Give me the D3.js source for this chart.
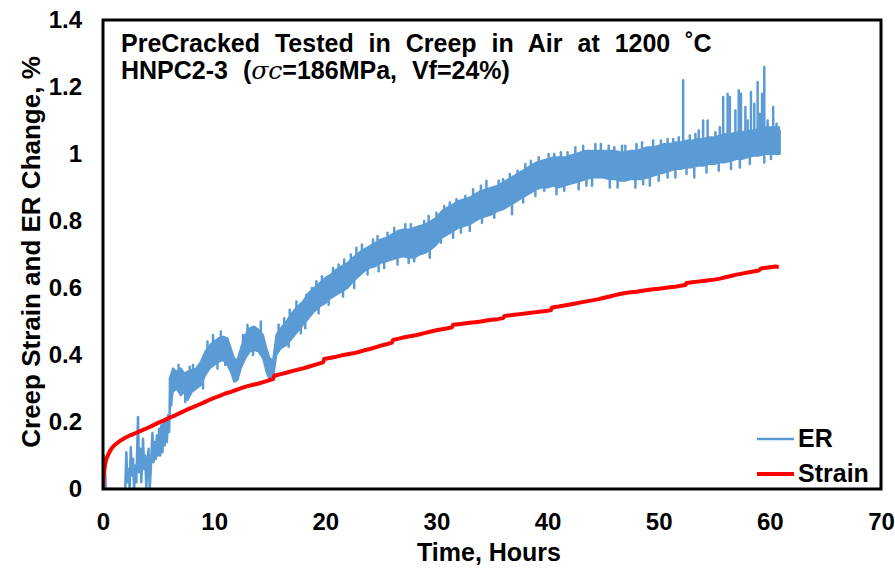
<!DOCTYPE html>
<html><head><meta charset="utf-8">
<script src="https://cdn.jsdelivr.net/npm/d3@7"></script>
<style>body{margin:0;background:#fff}svg{display:block}</style>
</head><body><svg id="c" width="895" height="568"></svg>
<script>
const xTicks = [0,10,20,30,40,50,60,70];
const yTicks = [0,0.2,0.4,0.6,0.8,1,1.2,1.4];
const yTickLabels = ["0","0.2","0.4","0.6","0.8","1","1.2","1.4"];
const seriesNames = ["ER","Strain"];
const titleLine1 = "PreCracked Tested in Creep in Air at 1200 ˚C";
const xLabel = "Time, Hours";
const yLabel = "Creep Strain and ER Change, %";

// ER early (sparse noisy) part: [hours, value]
const erEarly = [[0.0,0],[0.08,0.1],[0.12,0.02],[0.18,0.07],[0.25,0],[2.0,0],[2.1,0.11],[2.2,0.02],[2.3,0.06],[2.4,0],[2.5,0.125],[2.6,0.04],[2.7,0.09],[2.8,0],[2.9,0.07],[3.0,0.02],[3.15,0.215],[3.25,0.05],[3.35,0.12],[3.45,0.02],[3.6,0.15],[3.7,0.06],[3.8,0.1],[3.9,0],[4.0,0.08],[4.1,0.12],[4.2,0],[4.3,0.06],[4.45,0.167],[4.55,0.08],[4.65,0.14],[4.75,0.09],[4.85,0.16],[4.95,0.1],[5.05,0.18],[5.15,0.1],[5.25,0.19],[5.35,0.11],[5.45,0.2],[5.55,0.13],[5.65,0.21],[5.75,0.14],[5.85,0.22],[5.95,0.17],[6.05,0.3],[6.15,0.25],[6.25,0.34]];

// ER dense band: hours, lower and upper envelope
const erHours = [6.0,6.3,6.6,7.0,7.3,7.6,8.0,8.4,8.8,9.2,9.6,10.0,10.4,10.8,11.2,11.5,11.8,12.1,12.4,12.8,13.2,13.6,14.0,14.4,14.7,15.0,15.3,15.6,16.0,16.5,17.0,17.5,18.0,18.5,19.0,19.5,20.0,20.5,21.0,21.5,22.0,22.5,23.0,23.5,24.0,24.5,25.0,25.5,26.0,26.5,27.0,27.5,28.0,28.5,29.0,29.5,30.0,30.5,31.0,31.5,32.0,32.5,33.0,33.5,34.0,34.5,35.0,35.5,36.0,36.5,37.0,37.5,38.0,38.5,39.0,39.5,40.0,40.5,41.0,41.5,42.0,42.5,43.0,43.5,44.0,44.5,45.0,45.5,46.0,46.5,47.0,47.5,48.0,48.5,49.0,49.5,50.0,50.5,51.0,51.5,52.0,52.5,53.0,53.5,54.0,54.5,55.0,55.5,56.0,56.5,57.0,57.5,58.0,58.5,59.0,59.5,60.0,60.5,60.9];
const erLow = [0.24,0.29,0.30,0.28,0.29,0.265,0.29,0.30,0.31,0.34,0.36,0.37,0.38,0.385,0.37,0.35,0.32,0.325,0.36,0.39,0.41,0.415,0.41,0.39,0.35,0.325,0.33,0.40,0.42,0.43,0.45,0.47,0.49,0.51,0.53,0.545,0.555,0.57,0.58,0.59,0.60,0.62,0.635,0.65,0.66,0.665,0.675,0.68,0.685,0.69,0.695,0.69,0.69,0.70,0.705,0.715,0.73,0.75,0.76,0.77,0.78,0.785,0.79,0.80,0.81,0.815,0.82,0.83,0.835,0.845,0.855,0.865,0.875,0.885,0.895,0.90,0.90,0.905,0.90,0.905,0.91,0.915,0.92,0.925,0.93,0.93,0.93,0.925,0.925,0.92,0.92,0.925,0.925,0.925,0.93,0.935,0.94,0.945,0.95,0.955,0.955,0.96,0.96,0.965,0.965,0.97,0.97,0.975,0.975,0.98,0.985,0.985,0.99,0.995,0.995,1.0,1.0,1.0,1.0];
const erHigh = [0.33,0.36,0.35,0.36,0.345,0.35,0.355,0.36,0.38,0.41,0.43,0.44,0.45,0.455,0.45,0.42,0.39,0.385,0.42,0.46,0.48,0.485,0.475,0.46,0.42,0.39,0.385,0.46,0.48,0.50,0.525,0.545,0.56,0.585,0.60,0.615,0.63,0.64,0.655,0.665,0.675,0.69,0.705,0.715,0.725,0.735,0.745,0.75,0.76,0.77,0.775,0.775,0.78,0.785,0.79,0.80,0.81,0.83,0.84,0.85,0.86,0.865,0.87,0.88,0.89,0.895,0.90,0.905,0.915,0.925,0.935,0.945,0.955,0.965,0.975,0.98,0.985,0.99,0.99,0.99,0.995,1.0,1.005,1.01,1.01,1.01,1.01,1.01,1.01,1.005,1.005,1.01,1.01,1.015,1.02,1.02,1.025,1.03,1.03,1.035,1.035,1.04,1.04,1.045,1.045,1.05,1.05,1.055,1.06,1.06,1.065,1.065,1.07,1.07,1.075,1.08,1.08,1.08,1.07];

// ER spikes: [hours, base, tip]
const erSpikes = [[8.1,0.32,0.37],[9.9,0.40,0.46],[13.0,0.44,0.49],[16.3,0.46,0.51],[17.4,0.51,0.56],[18.8,0.55,0.60],[19.7,0.58,0.635],[21.2,0.62,0.67],[22.8,0.67,0.72],[24.3,0.69,0.745],[25.6,0.71,0.765],[27.2,0.735,0.79],[28.9,0.75,0.80],[30.0,0.77,0.825],[31.2,0.80,0.855],[32.6,0.83,0.875],[34.5,0.85,0.92],[36.0,0.87,0.925],[37.3,0.89,0.95],[38.5,0.92,0.98],[40.6,0.94,1.0],[41.8,0.95,1.005],[42.5,0.95,1.02],[44.3,0.97,1.03],[46.0,0.96,1.02],[47.0,0.96,1.025],[48.5,0.97,1.035],[50.2,0.98,1.04],[51.3,0.99,1.045],[52.2,1.0,1.22],[53.6,1.0,1.07],[54.0,1.0,1.10],[54.4,1.0,1.10],[55.1,1.01,1.065],[55.8,1.02,1.17],[56.2,1.02,1.18],[56.4,1.02,1.17],[56.9,1.02,1.13],[57.2,1.02,1.19],[57.4,1.02,1.18],[57.8,1.03,1.14],[58.0,1.03,1.10],[58.3,1.03,1.185],[58.6,1.03,1.15],[58.9,1.03,1.215],[59.1,1.03,1.12],[59.3,1.04,1.18],[59.5,1.04,1.26],[59.8,1.04,1.10],[60.3,1.04,1.14],[60.6,1.04,1.09],[60.8,1.04,1.08],
  [6.8,0.33,0.37],[7.8,0.33,0.365],[9.4,0.40,0.44],[10.6,0.43,0.47],[12.6,0.42,0.46],[14.2,0.45,0.50],[15.8,0.44,0.49],[16.8,0.49,0.535],[18.3,0.54,0.58],[19.2,0.58,0.62],[20.7,0.62,0.66],[21.7,0.64,0.685],[22.3,0.66,0.70],[23.3,0.69,0.73],[24.7,0.72,0.755],[26.2,0.74,0.78],[27.7,0.75,0.79],[29.3,0.77,0.815],[30.7,0.81,0.845],[31.8,0.83,0.865],[33.3,0.85,0.895],[34.0,0.86,0.905],[35.6,0.88,0.92],[36.6,0.89,0.94],[38.0,0.93,0.97],[39.2,0.95,0.99],[40.1,0.96,1.0],[41.2,0.96,1.005],[43.2,0.98,1.025],[44.8,0.98,1.03],[45.5,0.98,1.025],[46.7,0.98,1.025],[48.0,0.99,1.03],[49.5,1.0,1.04],[50.8,1.0,1.045],[51.8,1.01,1.05],[52.8,1.01,1.055],[53.3,1.02,1.06],[55.5,1.03,1.08],
  [7.4,0.30,0.26],[11.0,0.40,0.37],[18.2,0.52,0.48],[20.3,0.59,0.55],[23.8,0.68,0.64],[24.8,0.70,0.65],[26.5,0.72,0.67],[28.0,0.72,0.68],[29.4,0.74,0.69],[31.5,0.79,0.75],[33.0,0.82,0.77],[35.2,0.85,0.81],[36.8,0.87,0.82],[39.7,0.93,0.89],[40.8,0.93,0.88],[42.8,0.94,0.895],[44.0,0.96,0.905],[45.6,0.95,0.90],[47.9,0.95,0.90],[49.2,0.96,0.905],[50.8,0.97,0.93],[51.5,0.98,0.93],[53.2,0.99,0.93],[55.4,1.0,0.95],[56.5,1.0,0.955],[58.2,1.01,0.97],[60.1,1.02,0.985],
  [9.0,0.33,0.30],[10.3,0.39,0.36],[13.5,0.43,0.40],[16.7,0.46,0.425],[17.8,0.50,0.465],[19.4,0.56,0.525],[21.6,0.61,0.575],[22.6,0.64,0.60],[25.3,0.69,0.66],[27.5,0.71,0.675],[30.4,0.77,0.735],[32.2,0.80,0.765],[34.1,0.83,0.795],[37.8,0.89,0.855],[38.9,0.91,0.875],[41.5,0.93,0.89],[43.5,0.95,0.905],[46.3,0.94,0.90],[48.6,0.95,0.91],[50.0,0.96,0.92],[52.5,0.98,0.94],[54.3,0.99,0.945],[57.3,1.0,0.96],[59.5,1.01,0.975]];

// Strain: [hours, value]
const strain = [[0,0],[0.05,0.035],[0.1,0.055],[0.2,0.075],[0.3,0.09],[0.5,0.105],[0.75,0.12],[1.0,0.13],[1.5,0.143],[2.0,0.153],[2.5,0.161],[3.0,0.168],[3.5,0.175],[4.0,0.182],[4.5,0.19],[5.0,0.198],[5.5,0.205],[6.0,0.213],[6.5,0.22],[7.0,0.228],[7.5,0.236],[8.0,0.243],[8.5,0.25],[9.0,0.257],[9.5,0.265],[10.0,0.272],[10.5,0.278],[11.0,0.285],[11.5,0.29],[12.0,0.296],[12.5,0.302],[13.0,0.307],[13.5,0.311],[14.0,0.315],[14.5,0.32],[15.0,0.325],[15.3,0.328],[15.4,0.338],[16.0,0.343],[16.5,0.347],[17.0,0.352],[17.5,0.356],[18.0,0.36],[18.5,0.365],[19.0,0.37],[19.5,0.375],[19.8,0.378],[19.9,0.388],[20.5,0.392],[21.0,0.395],[21.5,0.399],[22.0,0.402],[22.5,0.405],[23.0,0.409],[23.5,0.414],[24.0,0.418],[24.5,0.423],[25.0,0.428],[25.5,0.432],[26.0,0.437],[26.1,0.445],[26.5,0.448],[27.0,0.452],[27.5,0.455],[28.0,0.458],[28.5,0.462],[29.0,0.466],[29.5,0.47],[30.0,0.474],[30.5,0.477],[31.0,0.48],[31.4,0.483],[31.5,0.49],[32.0,0.492],[32.5,0.494],[33.0,0.496],[33.5,0.498],[34.0,0.5],[34.5,0.503],[35.0,0.505],[35.5,0.507],[36.0,0.51],[36.1,0.516],[36.5,0.518],[37.0,0.52],[37.5,0.522],[38.0,0.524],[38.5,0.526],[39.0,0.528],[39.5,0.53],[40.0,0.532],[40.3,0.534],[40.4,0.542],[41.0,0.545],[41.5,0.548],[42.0,0.551],[42.5,0.554],[43.0,0.557],[43.5,0.56],[44.0,0.563],[44.5,0.566],[45.0,0.57],[45.5,0.574],[46.0,0.578],[46.5,0.582],[47.0,0.585],[47.5,0.587],[48.0,0.589],[48.5,0.592],[49.0,0.594],[49.5,0.596],[50.0,0.598],[50.5,0.6],[51.0,0.602],[51.5,0.604],[52.0,0.607],[52.4,0.609],[52.5,0.615],[53.0,0.617],[53.5,0.619],[54.0,0.621],[54.5,0.623],[55.0,0.625],[55.5,0.628],[56.0,0.632],[56.5,0.636],[57.0,0.64],[57.5,0.643],[58.0,0.646],[58.5,0.649],[59.0,0.652],[59.2,0.658],[59.5,0.66],[60.0,0.662],[60.5,0.664],[60.8,0.663]];

const colors = {ER:"#5B9BD5", Strain:"#FF0000"};
const font = "Arial, 'Liberation Sans', sans-serif";

const svg = d3.select("#c");
const L=103, T=20, R=881, B=489;
const x = d3.scaleLinear().domain([0,70]).range([L,R]);
const y = d3.scaleLinear().domain([0,1.4]).range([B,T]);

svg.append("clipPath").attr("id","pc").append("rect").attr("x",L).attr("y",T).attr("width",R-L).attr("height",B-T);
const g = svg.append("g").attr("clip-path","url(#pc)");

// ER band
const band = erHours.map((h,i)=>({h, lo:erLow[i], hi:erHigh[i]}));
g.append("path").datum(band)
  .attr("d", d3.area().x(d=>x(d.h)).y0(d=>y(d.lo)).y1(d=>y(d.hi)))
  .attr("fill",colors.ER).attr("stroke",colors.ER).attr("stroke-width",2).attr("stroke-linejoin","round");
g.selectAll("line.spk").data(erSpikes).join("line").attr("class","spk")
  .attr("x1",d=>x(d[0])).attr("x2",d=>x(d[0])).attr("y1",d=>y(d[1])).attr("y2",d=>y(d[2]))
  .attr("stroke",colors.ER).attr("stroke-width",2.5).attr("stroke-linecap","round");
g.append("path").datum(erEarly)
  .attr("d", d3.line().x(d=>x(d[0])).y(d=>y(d[1])))
  .attr("fill","none").attr("stroke",colors.ER).attr("stroke-width",2.5).attr("stroke-linejoin","round");

// Strain
g.append("path").datum(strain)
  .attr("d", d3.line().x(d=>x(d[0])).y(d=>y(d[1])))
  .attr("fill","none").attr("stroke",colors.Strain).attr("stroke-width",4).attr("stroke-linejoin","round");

// frame
svg.append("rect").attr("x",L).attr("y",T).attr("width",R-L).attr("height",B-T)
  .attr("fill","none").attr("stroke","#000").attr("stroke-width",3);

// axes
const xAxis = d3.axisBottom(x).tickValues(xTicks).tickSize(0).tickPadding(24).tickFormat(d3.format("d"));
const gx = svg.append("g").attr("transform",`translate(0,${B})`).call(xAxis);
gx.select(".domain").remove();
gx.selectAll("text").attr("font-family",font).attr("font-size",24).attr("font-weight","bold").attr("fill","#000");

const yAxis = d3.axisLeft(y).tickValues(yTicks).tickSize(0).tickPadding(21).tickFormat((d,i)=>yTickLabels[i]);
const gy = svg.append("g").attr("transform",`translate(${L},0)`).call(yAxis);
gy.select(".domain").remove();
gy.selectAll("text").attr("font-family",font).attr("font-size",24).attr("font-weight","bold").attr("fill","#000");

// axis titles
svg.append("text").attr("x",(L+R)/2 - 3).attr("y",561).attr("text-anchor","middle")
  .attr("font-family",font).attr("font-size",25).attr("font-weight","bold").text(xLabel);
svg.append("text").attr("transform",`translate(40,252) rotate(-90)`).attr("text-anchor","middle")
  .attr("font-family",font).attr("font-size",26).attr("font-weight","bold").text(yLabel);

// chart title
svg.append("text").attr("x",121).attr("y",52).attr("font-family",font).attr("font-size",25).attr("font-weight","bold").attr("word-spacing",8).text(titleLine1);
const t2 = svg.append("text").attr("x",121).attr("y",79).attr("font-family",font).attr("font-size",25).attr("font-weight","bold").attr("word-spacing",8);
t2.append("tspan").text("HNPC2-3 (");
t2.append("tspan").attr("font-family","'DejaVu Serif', serif").attr("font-style","italic").attr("font-weight","normal").text("σc");
t2.append("tspan").text("=186MPa, Vf=24%)");

// legend
const leg = svg.append("g");
seriesNames.forEach((s,i)=>{
  const yy = 439 + i*35;
  leg.append("line").attr("x1",757).attr("x2",794).attr("y1",yy).attr("y2",yy).attr("stroke",colors[s]).attr("stroke-width",s==="ER"?2.5:4);
  leg.append("text").attr("x",798).attr("y",yy+8).attr("font-family",font).attr("font-size",25).attr("font-weight","bold").text(s);
});
</script></body></html>
